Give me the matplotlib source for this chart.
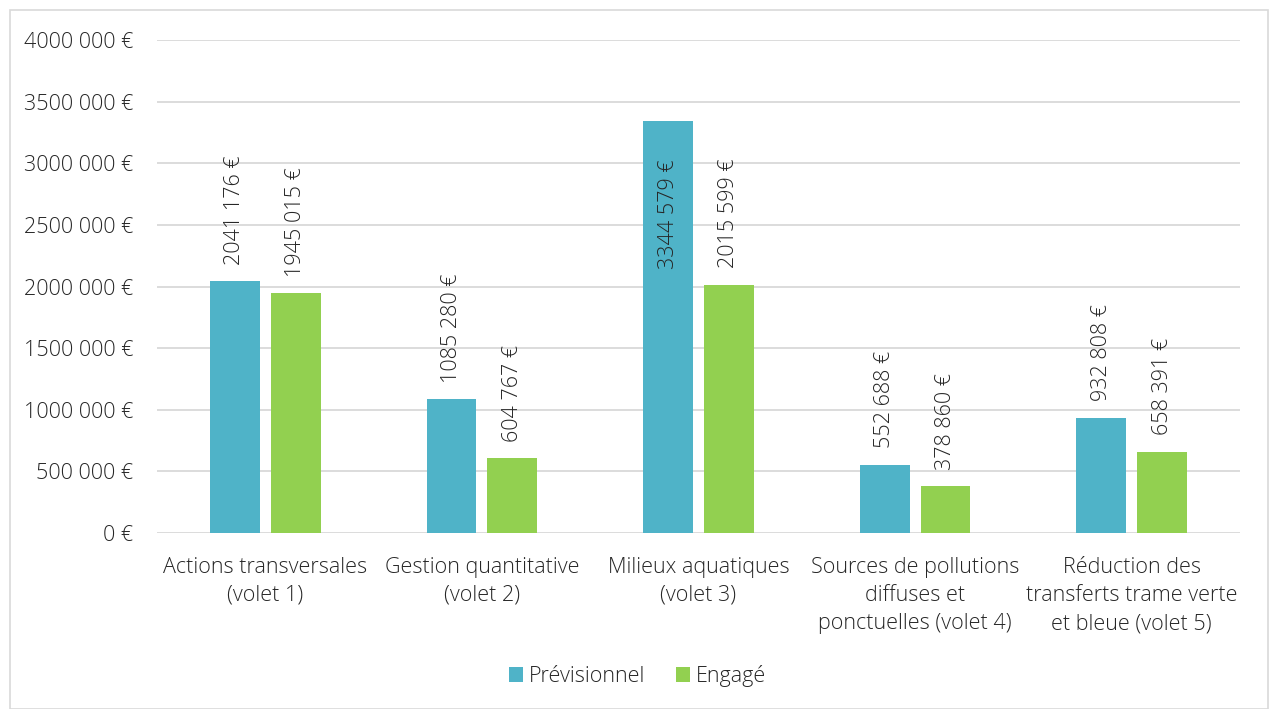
import numpy as np
import matplotlib.pyplot as plt
from matplotlib.patches import Rectangle

plt.rcParams['font.family'] = ['Open Sans', 'DejaVu Sans']
plt.rcParams['font.weight'] = 'light'

# Data
categories = [
    "Actions transversales\n(volet 1)",
    "Gestion quantitative\n(volet 2)",
    "Milieux aquatiques\n(volet 3)",
    "Sources de pollutions\ndiffuses et\nponctuelles (volet 4)",
    "Réduction des\ntransferts trame verte\net bleue (volet 5)",
]
previsionnel = [2041176, 1085280, 3344579, 552688, 932808]
engage = [1945015, 604767, 2015599, 378860, 658391]
series_names = ["Prévisionnel", "Engagé"]
colors = ["#4FB3C8", "#92D050"]
yticks = [0, 500000, 1000000, 1500000, 2000000, 2500000, 3000000, 3500000, 4000000]


def fmt_eur(v):
    v = int(round(v))
    if v >= 1000:
        return f"{v // 1000} {v % 1000:03d} €"
    return f"{v} €"


fs = 15.5
fig = plt.figure(figsize=(12.75, 7.09), dpi=100)
ax = fig.add_axes([157 / 1275, 1 - 533 / 709, (1240 - 157) / 1275, (533 - 40) / 709])

# outer border like the office chart frame
fig.patches.append(Rectangle((10 / 1275, 0), 1258 / 1275, 699 / 709, transform=fig.transFigure,
                             fill=False, edgecolor="#D9D9D9", linewidth=1.2))

x = np.arange(len(categories))
w = 0.23
off = 0.14
text_color = "#262626"
ymax = 4000000

for vals, sgn, col, name in [(previsionnel, -1, colors[0], series_names[0]),
                             (engage, 1, colors[1], series_names[1])]:
    bars = ax.bar(x + sgn * off, vals, width=w, color=col, label=name, zorder=2)
    for b, v in zip(bars, vals):
        if v > 0.8 * ymax:
            # too tall for an outside label: put it inside the bar
            xy_off, va = (0, -28), "top"
        else:
            xy_off, va = (0, 12), "bottom"
        ax.annotate(fmt_eur(v), (b.get_x() + b.get_width() / 2, b.get_height()),
                    xytext=xy_off, textcoords="offset points", rotation=90,
                    ha="center", va=va, fontsize=fs, color=text_color, zorder=3)

ax.set_xlim(-0.5, len(categories) - 0.5)
ax.set_ylim(0, ymax)
ax.set_yticks(yticks)
ax.set_yticklabels([fmt_eur(v) for v in yticks], fontsize=fs, color=text_color)
ax.set_xticks(x)
ax.set_xticklabels(categories, fontsize=fs, color=text_color, linespacing=1.45)
ax.tick_params(axis="both", length=0)
ax.tick_params(axis="y", pad=17)
ax.tick_params(axis="x", pad=17)
ax.grid(axis="y", color="#D9D9D9", linewidth=1.3, zorder=0)
ax.set_axisbelow(True)
for s in ax.spines.values():
    s.set_visible(False)

fig.legend(loc="center", bbox_to_anchor=(0.5, 1 - 676 / 709), ncol=2, frameon=False,
           fontsize=fs, handlelength=0.65, handleheight=0.65, handletextpad=0.3,
           columnspacing=1.4, labelcolor=text_color)

fig.savefig("out.png", dpi=100)
